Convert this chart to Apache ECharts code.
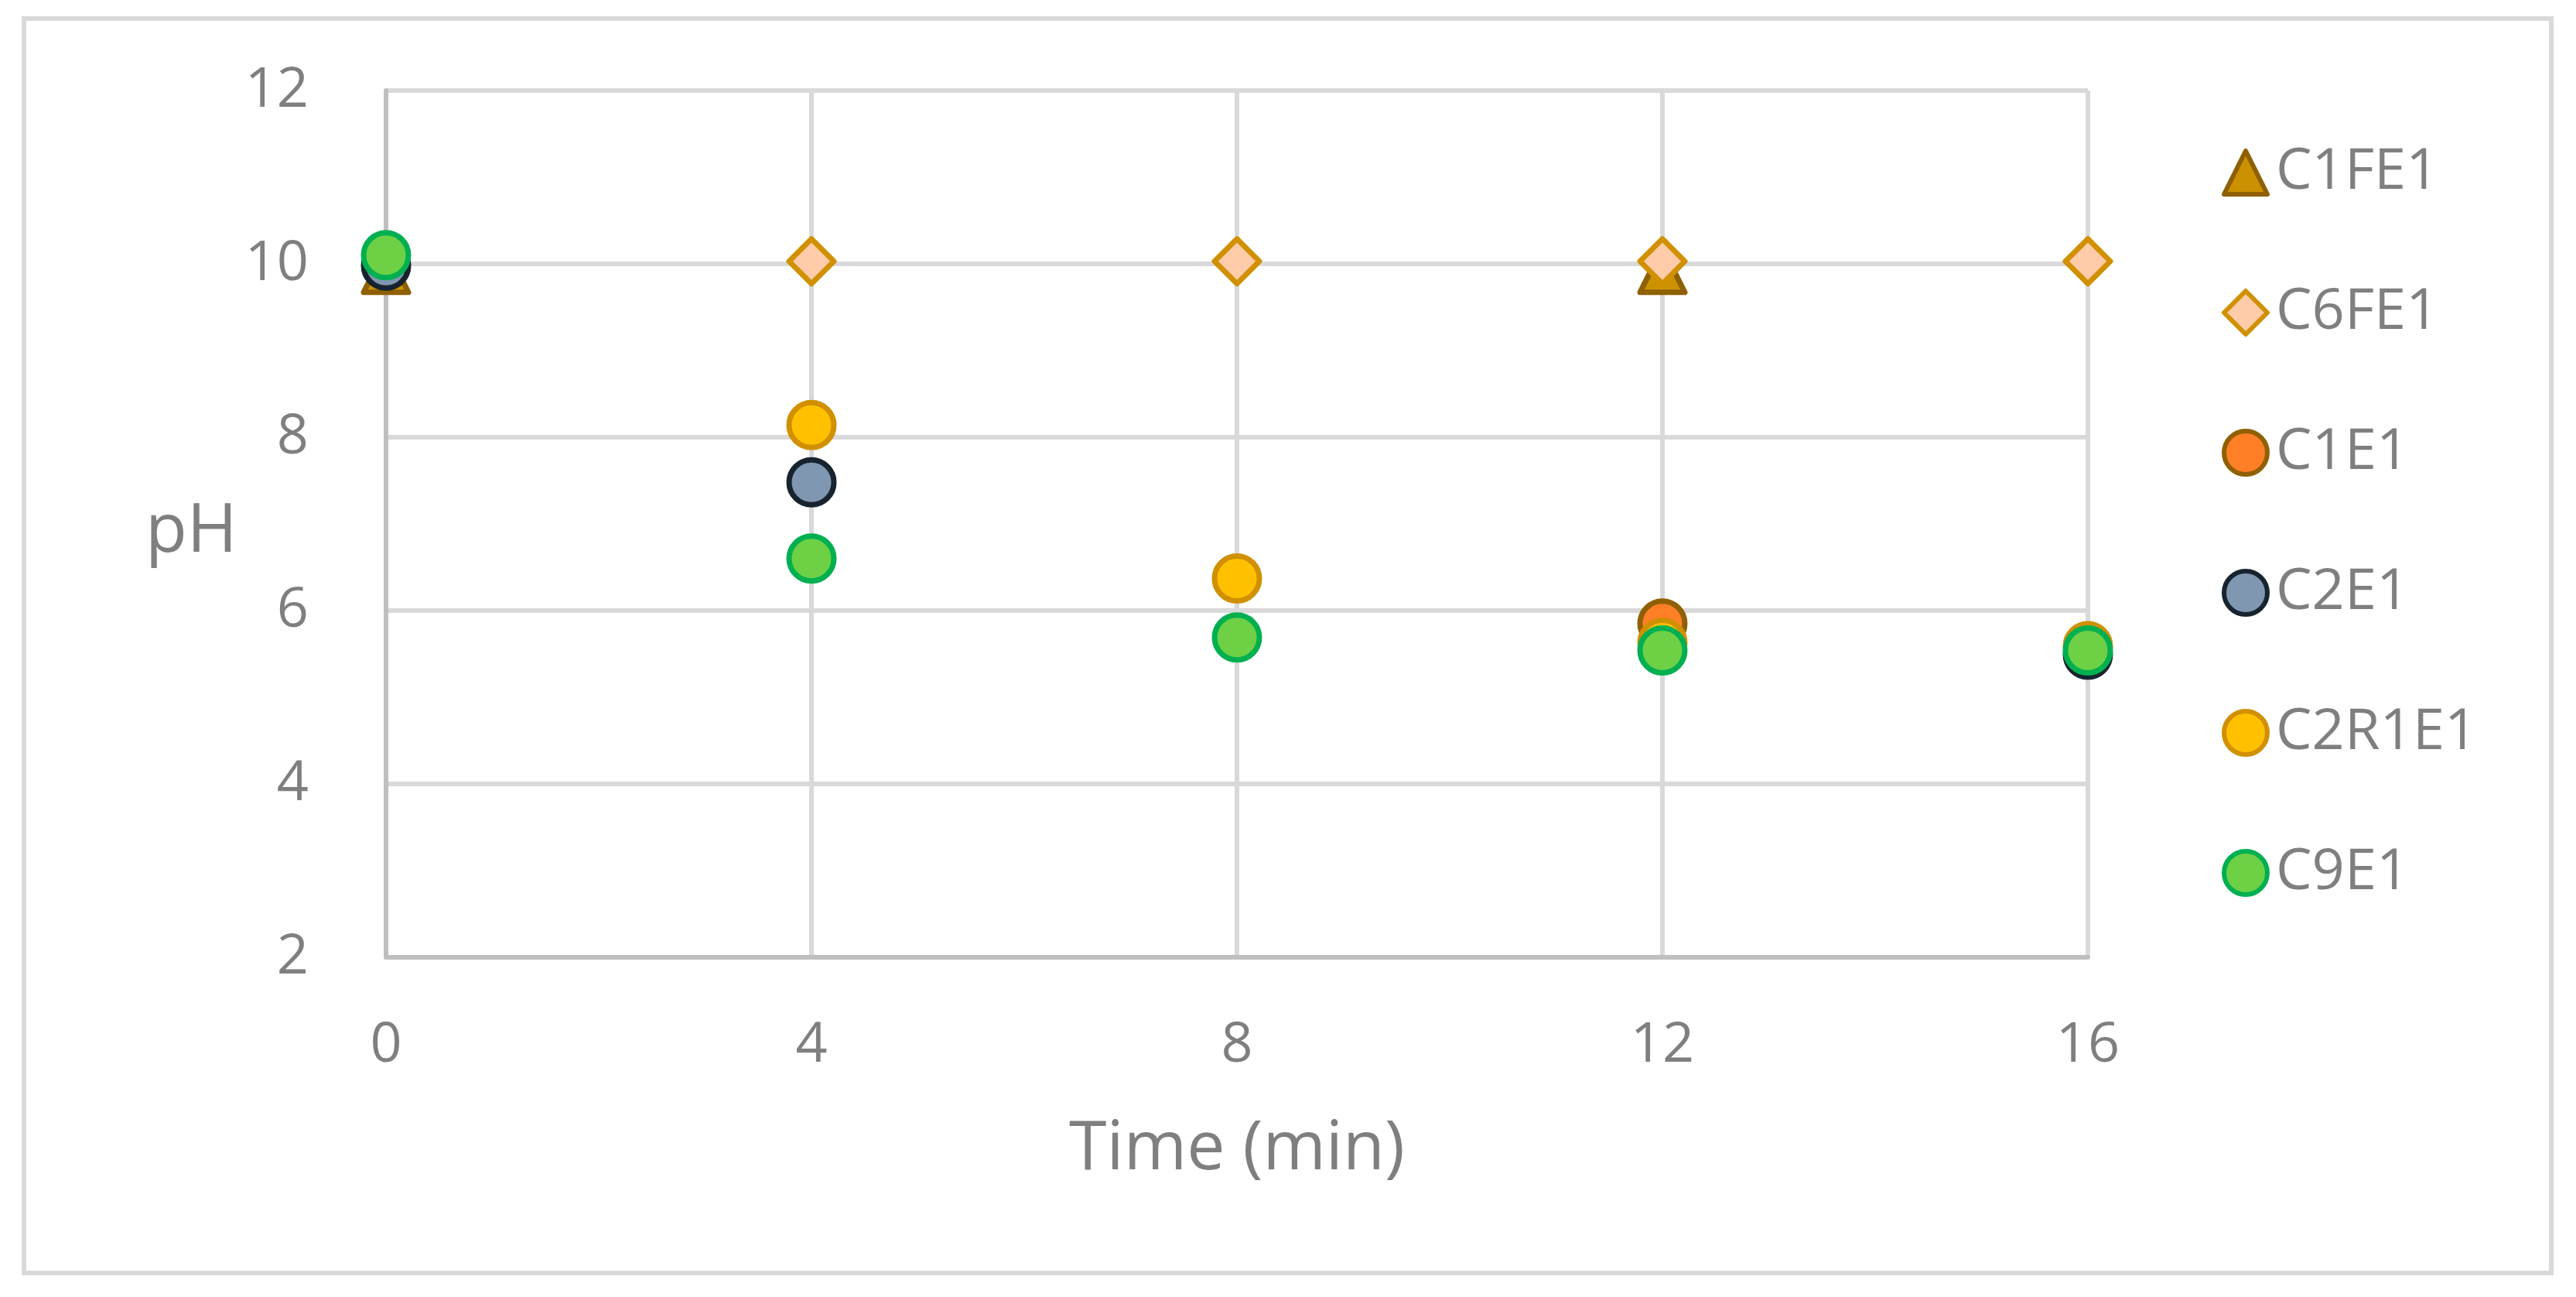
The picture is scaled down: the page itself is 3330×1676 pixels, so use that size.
<!DOCTYPE html>
<html>
<head>
<meta charset="utf-8">
<title>pH vs time</title>
<script src="https://cdn.jsdelivr.net/npm/echarts@6/dist/echarts.min.js"></script>
<style>
  html, body { margin: 0; padding: 0; background: #fff; }
  #chart { width: 3330px; height: 1676px; }
</style>
</head>
<body>
<div id="chart"></div>
<script>
  // values, [time (min), pH]
  const seriesNames = ['C1FE1', 'C6FE1', 'C1E1', 'C2E1', 'C2R1E1', 'C9E1']
  const c1fe1 = [[0, 9.93], [12, 9.93]]
  const c6fe1 = [[4, 10.03], [8, 10.03], [12, 10.03], [16, 10.03]]
  const c1e1 = [[12, 5.85]]
  const c2e1 = [[0, 9.98], [4, 7.48], [16, 5.49]]
  const c2r1e1 = [[4, 8.14], [8, 6.37], [12, 5.63], [16, 5.59]]
  const c9e1 = [[0, 10.1], [4, 6.6], [8, 5.69], [12, 5.54], [16, 5.54]]

  const xTicks = [0, 4, 8, 12, 16]
  const yTicks = [2, 4, 6, 8, 10, 12]

  const font = '"Open Sans", "DejaVu Sans", sans-serif'
  const grey = '#7F7F7F'

  function makeSeries(name, data, symbol, fill, border) {
    return {
      name: name,
      type: 'scatter',
      data: data,
      symbol: symbol,
      symbolSize: 58,
      itemStyle: {
        color: fill,
        borderColor: border,
        borderWidth: 7,
        borderJoin: 'round',
        opacity: 1
      },
      emphasis: { disabled: true }
    }
  }

  const chart = echarts.init(document.getElementById('chart'), null, { renderer: 'canvas' })

  chart.setOption({
    backgroundColor: '#ffffff',
    animation: false,
    textStyle: { fontFamily: font },
    graphic: [{
      type: 'rect',
      shape: { x: 31, y: 24, width: 3267, height: 1621 },
      style: { fill: 'none', stroke: '#D9D9D9', lineWidth: 6 },
      silent: true
    }, {
      type: 'text',
      left: 242 - 54,
      top: 702 - 58,
      style: { text: 'pH', font: '88px ' + font, fill: grey }
    }],
    grid: {
      left: 499,
      top: 117,
      width: 2200,
      height: 1120
    },
    legend: {
      orient: 'vertical',
      left: 2867,
      top: 221 - 40,
      itemWidth: 56,
      itemHeight: 56,
      itemGap: 107,
      itemStyle: { borderWidth: 6 },
      textStyle: { fontSize: 74, color: grey, fontFamily: font, padding: [0, 0, 0, 6] },
      data: seriesNames
    },
    xAxis: {
      type: 'value',
      min: xTicks[0],
      max: xTicks[xTicks.length - 1],
      interval: 4,
      name: 'Time (min)',
      nameLocation: 'middle',
      nameGap: 205,
      nameTextStyle: { fontSize: 88, color: grey, fontFamily: font },
      axisLine: { show: true, onZero: false, lineStyle: { color: '#BFBFBF', width: 6 } },
      axisTick: { show: false },
      axisLabel: { fontSize: 72, color: grey, margin: 78, fontFamily: font },
      splitLine: { show: true, lineStyle: { color: '#D9D9D9', width: 6 } }
    },
    yAxis: {
      type: 'value',
      min: yTicks[0],
      max: yTicks[yTicks.length - 1],
      interval: 2,
      axisLine: { show: true, onZero: false, lineStyle: { color: '#BFBFBF', width: 6 } },
      axisTick: { show: false },
      axisLabel: { fontSize: 72, color: grey, margin: 100, fontFamily: font },
      splitLine: { show: true, lineStyle: { color: '#D9D9D9', width: 6 } }
    },
    series: [
      makeSeries('C1FE1', c1fe1, 'triangle', '#CC9100', '#8F6000'),
      makeSeries('C6FE1', c6fe1, 'diamond', '#FFCBA8', '#D09000'),
      makeSeries('C1E1', c1e1, 'circle', '#FF7F27', '#8F6000'),
      makeSeries('C2E1', c2e1, 'circle', '#7F97B0', '#17232F'),
      makeSeries('C2R1E1', c2r1e1, 'circle', '#FFC000', '#D09000'),
      makeSeries('C9E1', c9e1, 'circle', '#6DD045', '#00B050')
    ]
  })
</script>
</body>
</html>
